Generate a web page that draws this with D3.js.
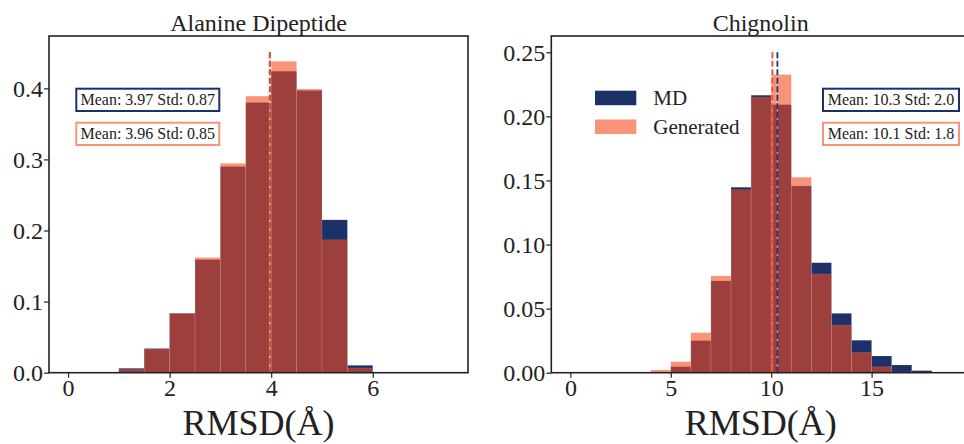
<!DOCTYPE html>
<html>
<head>
<meta charset="utf-8">
<script src="https://cdn.jsdelivr.net/npm/d3@7"></script>
<style>
  body { margin: 0; background: #fff; }
  svg { display: block; }
  text { font-family: "Liberation Serif", "DejaVu Serif", serif; fill: #222; }
</style>
</head>
<body>
<svg id="canvas" width="964" height="444"></svg>
<script>
// bin lower edges and heights
const alaBins = [0, 0.5, 1, 1.5, 2, 2.5, 3, 3.5, 4, 4.5, 5, 5.5, 6, 6.5, 7];
const alaMD  = [0, 0, 0.0062, 0.034, 0.0835, 0.159, 0.290, 0.380, 0.424, 0.397, 0.215, 0.0104, 0, 0, 0];
const alaGen = [0, 0, 0.0048, 0.0335, 0.0835, 0.162, 0.2945, 0.389, 0.438, 0.399, 0.187, 0.0066, 0, 0, 0];
const alaWidth = 0.5;

const chigBins = [0, 1, 2, 3, 4, 5, 6, 7, 8, 9, 10, 11, 12, 13, 14, 15, 16, 17, 18];
const chigMD  = [0, 0, 0, 0, 0, 0.0047, 0.025, 0.0716, 0.1447, 0.2165, 0.2091, 0.1457, 0.0858, 0.0463, 0.0253, 0.013, 0.006, 0.0016, 0];
const chigGen = [0, 0, 0, 0, 0.0021, 0.0086, 0.0312, 0.0755, 0.1428, 0.2150, 0.2326, 0.1525, 0.077, 0.0372, 0.0159, 0.0047, 0.0006, 0, 0];
const chigWidth = 1;

// mean line positions as they sit in the picture: MD, Generated
const alaMeans = [3.975, 3.97];
const chigMeans = [10.31, 10.06];
const alaText = ["Mean: 3.97 Std: 0.87", "Mean: 3.96 Std: 0.85"];
const chigText = ["Mean: 10.3 Std: 2.0", "Mean: 10.1 Std: 1.8"];

const alaXTicks = [0, 2, 4, 6];
const alaYTicks = [0, 0.1, 0.2, 0.3, 0.4];
const chigXTicks = [0, 5, 10, 15];
const chigYTicks = [0, 0.05, 0.10, 0.15, 0.20, 0.25];

const seriesNames = ["MD", "Generated"];

const navy = "#1b3168";
const orange = "#f54b21";
const orangeLight = "#f9937a";

let canvas = d3.select("#canvas");

let drawPanel = (opt) => {
    let x = d3.scaleLinear().domain(opt.xDomain).range([opt.left, opt.right]);
    let y = d3.scaleLinear().domain(opt.yDomain).range([opt.bottom, opt.top]);
    let g = canvas.append("g");

    // clip so the cut-off right panel behaves like the picture
    let clipId = "clip" + opt.id;
    g.append("clipPath").attr("id", clipId)
        .append("rect")
        .attr("x", opt.left).attr("y", opt.top)
        .attr("width", opt.right - opt.left).attr("height", opt.bottom - opt.top);
    let plot = g.append("g").attr("clip-path", "url(#" + clipId + ")");

    // MD bars
    plot.selectAll(".md")
        .data(opt.bins)
        .enter()
        .append("rect")
        .attr("class", "md")
        .attr("x", (d) => x(d))
        .attr("width", (d) => x(d + opt.width) - x(d))
        .attr("y", (d, i) => y(opt.md[i]))
        .attr("height", (d, i) => y(0) - y(opt.md[i]))
        .attr("fill", navy)
        .attr("stroke", "#ffffff")
        .attr("stroke-opacity", 0.15)
        .attr("stroke-width", 0.6);

    // generated bars, semi transparent over the MD ones
    plot.selectAll(".gen")
        .data(opt.bins)
        .enter()
        .append("rect")
        .attr("class", "gen")
        .attr("x", (d) => x(d))
        .attr("width", (d) => x(d + opt.width) - x(d))
        .attr("y", (d, i) => y(opt.gen[i]))
        .attr("height", (d, i) => y(0) - y(opt.gen[i]))
        .attr("fill", orange)
        .attr("fill-opacity", 0.6)
        .attr("stroke", "#ffffff")
        .attr("stroke-opacity", 0.15)
        .attr("stroke-width", 0.6);

    // mean lines, MD first, Generated on top
    let lineColors = [navy, orange];
    opt.means.forEach((m, i) => {
        plot.append("line")
            .attr("x1", x(m)).attr("x2", x(m))
            .attr("y1", y(0)).attr("y2", y(opt.lineTop))
            .attr("stroke", "#ffffff")
            .attr("stroke-opacity", 0.4)
            .attr("stroke-width", 1.4);
        plot.append("line")
            .attr("x1", x(m)).attr("x2", x(m))
            .attr("y1", y(0)).attr("y2", y(opt.lineTop))
            .attr("stroke", lineColors[i])
            .attr("stroke-width", 1.8)
            .attr("stroke-dasharray", "6,2.5");
    });

    // frame
    g.append("rect")
        .attr("x", opt.left).attr("y", opt.top)
        .attr("width", opt.right - opt.left).attr("height", opt.bottom - opt.top)
        .attr("fill", "none")
        .attr("stroke", "#222")
        .attr("stroke-width", 1.6);

    // axes
    let xAxis = g.append("g")
        .attr("transform", "translate(0," + opt.bottom + ")")
        .call(d3.axisBottom(x).tickValues(opt.xTicks).tickSize(5).tickFormat(d3.format("d")));
    xAxis.attr("font-family", "Liberation Serif");
    xAxis.select(".domain").remove();
    xAxis.selectAll("line").attr("stroke", "#222").attr("stroke-width", 1.2);
    xAxis.selectAll("text")
        .attr("y", 23.5).attr("dy", 0)
        .style("font-size", "24px");

    let yAxis = g.append("g")
        .attr("transform", "translate(" + opt.left + ",0)")
        .call(d3.axisLeft(y).tickValues(opt.yTicks).tickSize(5).tickFormat(d3.format(opt.yFormat)));
    yAxis.attr("font-family", "Liberation Serif");
    yAxis.select(".domain").remove();
    yAxis.selectAll("line").attr("stroke", "#222").attr("stroke-width", 1.2);
    yAxis.selectAll("text")
        .attr("x", -6).attr("dy", "0.34em")
        .style("font-size", "24px");

    // title and x label
    g.append("text")
        .attr("x", opt.titleX).attr("y", 31)
        .attr("text-anchor", "middle")
        .style("font-size", "24px")
        .text(opt.title);
    g.append("text")
        .attr("x", opt.titleX).attr("y", 435)
        .attr("text-anchor", "middle")
        .style("font-size", "36px")
        .text("RMSD(Å)");

    // stats boxes
    let boxColors = [navy, orangeLight];
    opt.stats.forEach((s, i) => {
        let by = 88.7 + i * 34;
        g.append("rect")
            .attr("x", opt.boxX).attr("y", by)
            .attr("width", opt.boxW).attr("height", 22.3)
            .attr("fill", "#fff")
            .attr("stroke", boxColors[i])
            .attr("stroke-width", 2);
        g.append("text")
            .attr("x", opt.boxX + opt.boxW / 2).attr("y", by + 16)
            .attr("text-anchor", "middle")
            .style("font-size", "16px")
            .text(s);
    });

    if (opt.legend) {
        let legendColors = [navy, orangeLight];
        seriesNames.forEach((name, i) => {
            let ly = 90.7 + i * 28.8;
            g.append("rect")
                .attr("x", 595).attr("y", ly)
                .attr("width", 41.3).attr("height", 14.5)
                .attr("fill", legendColors[i]);
            g.append("text")
                .attr("x", 653.3).attr("y", ly + 14.5)
                .style("font-size", "21px")
                .text(name);
        });
    }
};

drawPanel({
    id: "ala", left: 49, right: 468, top: 36, bottom: 372.7,
    xDomain: [-0.375, 7.875], yDomain: [0, 0.4736],
    bins: alaBins, md: alaMD, gen: alaGen, width: alaWidth,
    means: alaMeans, lineTop: 0.4515,
    xTicks: alaXTicks, yTicks: alaYTicks, yFormat: ".1f",
    title: "Alanine Dipeptide", titleX: 258.5,
    stats: alaText, boxX: 76.3, boxW: 143,
    legend: false
});

drawPanel({
    id: "chig", left: 551.3, right: 970, top: 36, bottom: 372.7,
    xDomain: [-0.95, 19.9], yDomain: [0, 0.2627],
    bins: chigBins, md: chigMD, gen: chigGen, width: chigWidth,
    means: chigMeans, lineTop: 0.25,
    xTicks: chigXTicks, yTicks: chigYTicks, yFormat: ".2f",
    title: "Chignolin", titleX: 760.7,
    stats: chigText, boxX: 823, boxW: 136,
    legend: true
});
</script>
</body>
</html>
